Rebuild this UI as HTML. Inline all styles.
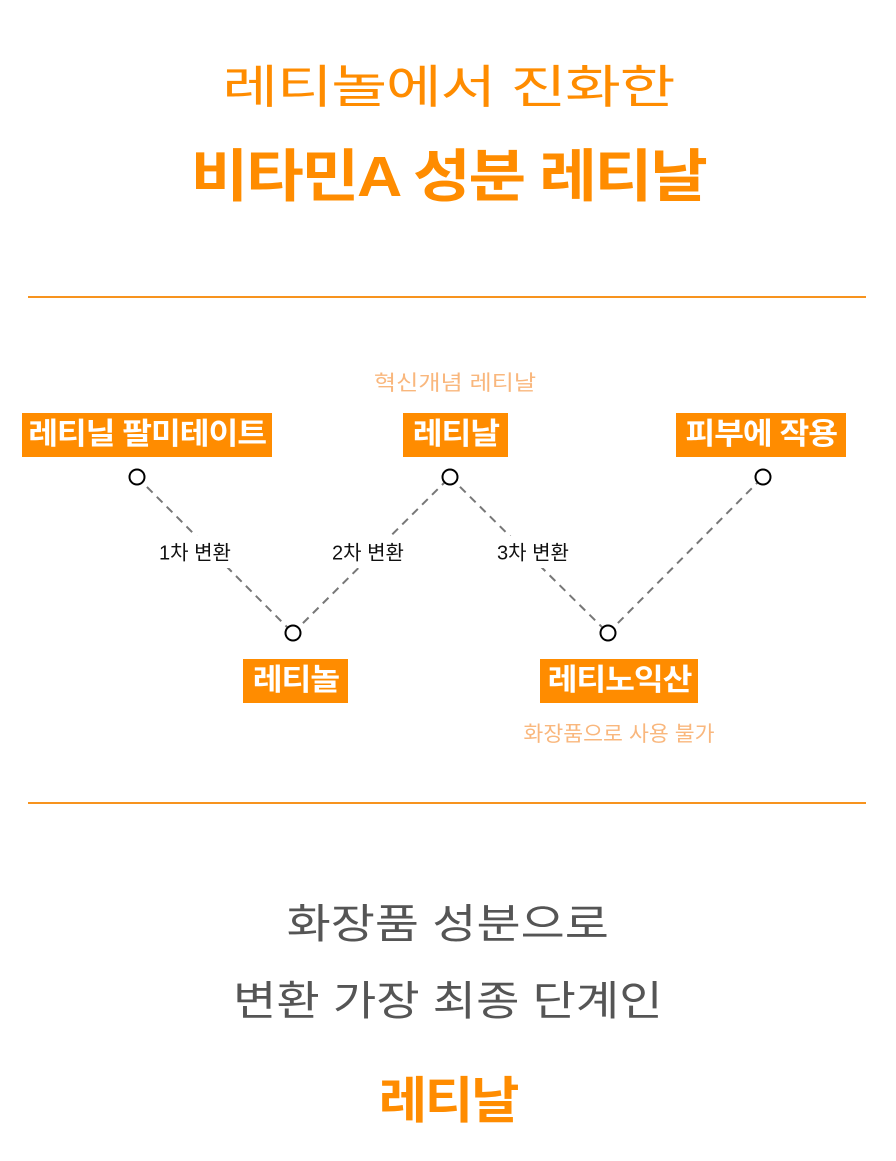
<!DOCTYPE html>
<html><head><meta charset="utf-8"><style>
body{margin:0;width:896px;height:1161px;background:#fff;position:relative;overflow:hidden;font-family:"Liberation Sans","Noto Sans CJK KR",sans-serif}
.t{position:absolute;left:0;width:896px;text-align:center;white-space:nowrap}
.t span,.box span{display:inline-block}
.box{position:absolute;background:#ff8c00;color:#fff;font-weight:bold;font-size:30px;text-align:center;height:44px;line-height:44px;letter-spacing:-1px;white-space:nowrap}
.box span{transform:scaleX(1.08)}
.hr{position:absolute;left:28px;width:838px;height:2px;background:#f7931e}
.lab{position:absolute;font-size:20px;color:#111;white-space:nowrap;transform:translate(-50%,-50%)}
.sub{position:absolute;font-size:21px;color:#f9b77d;white-space:nowrap}
</style></head><body>
<div class="t" style="top:51px;font-size:46px;color:#ff8c00;letter-spacing:-1px"><span style="transform:scaleX(1.32)">레티놀에서 진화한</span></div>
<div class="t" style="top:131px;font-size:57px;color:#ff8c00;font-weight:bold;letter-spacing:-2px"><span style="transform:scaleX(1.1)">비타민A 성분 레티날</span></div>
<div class="hr" style="top:296px"></div>
<div class="hr" style="top:802px"></div>
<svg style="position:absolute;left:0;top:0" width="896" height="1161">
<g stroke="#777" stroke-width="2" stroke-dasharray="8,6" fill="none">
<line x1="137" y1="477" x2="293" y2="633"/>
<line x1="293" y1="633" x2="450" y2="477"/>
<line x1="450" y1="477" x2="608" y2="633"/>
<line x1="608" y1="633" x2="763" y2="477"/>
</g>
<g fill="#fff">
<rect x="150" y="536" width="90" height="32"/>
<rect x="322" y="536" width="90" height="32"/>
<rect x="488" y="536" width="90" height="32"/>
</g>
<g stroke="#000" stroke-width="2" fill="#fff">
<circle cx="137" cy="477" r="7.5"/><circle cx="293" cy="633" r="7.5"/><circle cx="450" cy="477" r="7.5"/><circle cx="608" cy="633" r="7.5"/><circle cx="763" cy="477" r="7.5"/>
</g>
</svg>
<div class="lab" style="left:195px;top:551px">1차 변환</div>
<div class="lab" style="left:368px;top:551px">2차 변환</div>
<div class="lab" style="left:533px;top:551px">3차 변환</div>
<div class="sub" style="left:455px;top:382px;transform:translate(-50%,-50%) scaleX(1.15)">혁신개념 레티날</div>
<div class="sub" style="left:619px;top:733px;transform:translate(-50%,-50%) scaleX(1.03)">화장품으로 사용 불가</div>
<div class="box" style="left:22px;top:413px;width:250px"><span>레티닐 팔미테이트</span></div>
<div class="box" style="left:403px;top:413px;width:105px"><span>레티날</span></div>
<div class="box" style="left:676px;top:413px;width:170px"><span>피부에 작용</span></div>
<div class="box" style="left:243px;top:659px;width:105px"><span>레티놀</span></div>
<div class="box" style="left:540px;top:659px;width:158px"><span>레티노익산</span></div>
<div class="t" style="top:890px;font-size:41px;color:#555"><span style="transform:scaleX(1.17)">화장품 성분으로</span></div>
<div class="t" style="top:967px;font-size:41px;color:#555"><span style="transform:scaleX(1.15)">변환 가장 최종 단계인</span></div>
<div class="t" style="top:1061px;font-size:50px;color:#ff8c00;font-weight:bold;letter-spacing:-2px"><span style="transform:scaleX(1.05)">레티날</span></div>
</body></html>
